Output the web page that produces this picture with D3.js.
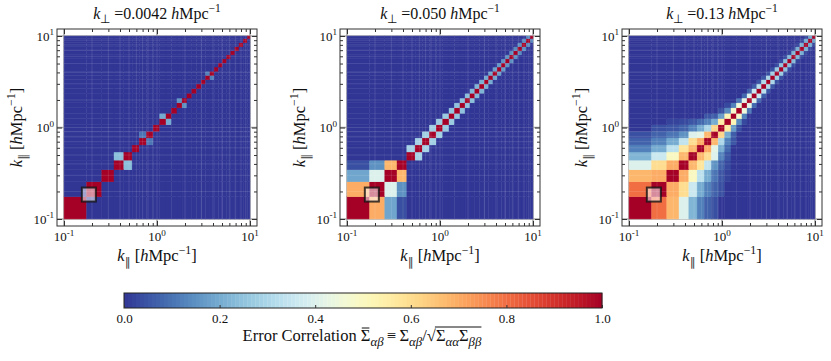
<!DOCTYPE html>
<html>
<head>
<meta charset="utf-8">
<script src="https://cdn.jsdelivr.net/npm/d3@7"></script>
<style>
  body { margin: 0; background: #fff; }
  svg { display: block; }
  text { font-family: "Liberation Serif", "Times New Roman", serif; fill: #111; }
</style>
</head>
<body>
<svg id="chart" width="831" height="361"></svg>
<script>
// k_parallel bin edges (h/Mpc), same for every panel
const kEdges = [0.1, 0.175, 0.255, 0.345, 0.44, 0.54, 0.645, 0.77, 0.91, 1.07, 1.25, 1.43,
  1.64, 1.86, 2.10, 2.37, 2.66, 2.99, 3.33, 3.71, 4.12, 4.58, 5.07, 5.62, 6.22, 6.88,
  7.62, 8.45, 9.35, 10.0];

const panelKperp = ["0.0042", "0.050", "0.13"];
const diagValue = 1.0;
const bgValue = 0.0;

// offDiag[d][i] = correlation of bin i with bin i+d+1 (missing -> background)
const offDiagA = [
  [0, 0, 0, 0.24, 0, 0, 0.1, 0, 0, 0.2, 0, 0, 0.15, 0, 0, 0, 0, 0, 0.12, 0, 0, 0, 0, 0, 0, 0, 0, 0]
];
const offDiagB = [
  [0.7, 0.4, 0.68, 0, 0.29, 0.29, 0.28, 0.28, 0.27, 0.27, 0.26, 0.25, 0.25, 0.24, 0.23, 0.22,
   0.21, 0.2, 0.19, 0.18, 0.17, 0.16, 0.15, 0.15, 0.14, 0.14, 0.13, 0.13],
  [0.19, 0.15],
  [0.04]
];
const offDiagC = [
  [0.8, 0.7, 0.7, 0.68, 0.68, 0.7, 0.68, 0.62, 0.56, 0.52, 0.48, 0.45, 0.42, 0.4, 0.36, 0.33,
   0.31, 0.3, 0.28, 0.27, 0.25, 0.24, 0.23, 0.22, 0.21, 0.2, 0.19, 0.18],
  [0.68, 0.6, 0.5, 0.58, 0.6, 0.42, 0.3, 0.2, 0.17, 0.14, 0.12, 0.1, 0.08, 0.07, 0.06, 0.05,
   0.05, 0.04, 0.04, 0.03, 0.03, 0.03, 0.02, 0.02, 0.02, 0.02, 0.02],
  [0.4, 0.36, 0.33, 0.34, 0.4, 0.2, 0.12, 0.06, 0.04, 0.03],
  [0.22, 0.2, 0.2, 0.15, 0.12, 0.08, 0.05],
  [0.12, 0.12, 0.1, 0.07, 0.05],
  [0.07, 0.07, 0.05, 0.03],
  [0.04, 0.04, 0.02]
];
const panelOffDiag = [offDiagA, offDiagB, offDiagC];

// highlighted (k, k) point
const markerK = [0.185, 0.185];

const majorTicks = [0.1, 1, 10];
const minorTicks = [0.2, 0.3, 0.4, 0.5, 0.6, 0.7, 0.8, 0.9, 2, 3, 4, 5, 6, 7, 8, 9];
const cbTicks = [0, 0.2, 0.4, 0.6, 0.8, 1.0];

const svg = d3.select("#chart");
const color = v => d3.interpolateRdYlBu(1 - v);
const serif = '"Liberation Serif", "Times New Roman", serif';

// layout
const panelLeft = [64, 347, 629];
const plotW = 186, plotTop = 36, plotH = 183, pad = 7;

function cellValue(off, i, j) {
  if (i === j) return diagValue;
  const band = off[Math.abs(i - j) - 1];
  const v = band ? band[Math.min(i, j)] : undefined;
  return v == null ? bgValue : v;
}

// text with italic / sub / superscript pieces
function rich(text, parts, size, subScale = 0.7) {
  let shift = 0;
  parts.forEach(p => {
    const small = p.sub || p.sup;
    const target = p.sub ? size * 0.3 : p.sup ? -size * 0.42 : 0;
    const fs = small ? size * subScale : size;
    text.append("tspan")
      .attr("dy", target - shift)
      .style("font-size", fs + "px")
      .style("font-style", p.i ? "italic" : null)
      .style("font-family", p.font || null)
      .style("fill", p.fill || null)
      .text(p.t);
    shift = target;
  });
  return text;
}

const kLabel = (sym) => [{t: "k", i: true}, {t: sym, sub: true, font: '"DejaVu Sans", sans-serif', fill: "#333"},
  {t: " ["}, {t: "h", i: true}, {t: "Mpc"}, {t: "\u22121", sup: true}, {t: "]"}];
const decade = d => [{t: "10"}, {t: String(Math.round(Math.log10(d))), sup: true}];

const nBins = kEdges.length - 1;

panelKperp.forEach((kp, n) => {
  const x0 = panelLeft[n];
  const x = d3.scaleLog().domain([0.1, 10]).range([x0, x0 + plotW]);
  const y = d3.scaleLog().domain([0.1, 10]).range([plotTop + plotH, plotTop]);
  const fx0 = x0 - pad, fx1 = x0 + plotW + pad, fy0 = plotTop - pad, fy1 = plotTop + plotH + pad;
  const g = svg.append("g");

  // major grid lines (seen in the white margin)
  g.selectAll(".gv").data(majorTicks).join("line")
    .attr("x1", d => x(d)).attr("x2", d => x(d)).attr("y1", fy0).attr("y2", fy1)
    .attr("stroke", "#a8a8a8").attr("stroke-width", 1.6);
  g.selectAll(".gh").data(majorTicks).join("line")
    .attr("y1", d => y(d)).attr("y2", d => y(d)).attr("x1", fx0).attr("x2", fx1)
    .attr("stroke", "#a8a8a8").attr("stroke-width", 1.6);

  // correlation matrix
  const off = panelOffDiag[n];
  const cells = d3.cross(d3.range(nBins), d3.range(nBins)).map(([i, j]) => ({i, j, v: cellValue(off, i, j)}));
  g.append("g").selectAll("rect").data(cells).join("rect")
    .attr("x", d => x(kEdges[d.j]))
    .attr("width", d => x(kEdges[d.j + 1]) - x(kEdges[d.j]))
    .attr("y", d => y(kEdges[d.i + 1]))
    .attr("height", d => y(kEdges[d.i]) - y(kEdges[d.i + 1]))
    .attr("fill", d => color(d.v))
    .attr("stroke", d => color(d.v))
    .attr("stroke-width", 0.4);

  // faint grid over the matrix
  const allTicks = majorTicks.concat(minorTicks);
  const grid = g.append("g").attr("stroke", "#fff").attr("stroke-opacity", 0.12);
  grid.selectAll(".v").data(allTicks).join("line")
    .attr("x1", d => x(d)).attr("x2", d => x(d)).attr("y1", plotTop).attr("y2", plotTop + plotH);
  grid.selectAll(".h").data(allTicks).join("line")
    .attr("y1", d => y(d)).attr("y2", d => y(d)).attr("x1", x0).attr("x2", x0 + plotW);

  // marker
  const ms = 14;
  g.append("rect")
    .attr("x", x(markerK[0]) - ms / 2).attr("y", y(markerK[1]) - ms / 2)
    .attr("width", ms).attr("height", ms)
    .attr("fill", "#fff").attr("fill-opacity", 0.55)
    .attr("stroke", "#111").attr("stroke-opacity", 0.8).attr("stroke-width", 2);

  // frame and inward ticks on all four sides
  g.append("rect")
    .attr("x", fx0).attr("y", fy0).attr("width", fx1 - fx0).attr("height", fy1 - fy0)
    .attr("fill", "none").attr("stroke", "#333").attr("stroke-width", 1);

  const sides = [
    [d3.axisBottom(x), `translate(0,${fy1})`],
    [d3.axisTop(x), `translate(0,${fy0})`],
    [d3.axisLeft(y), `translate(${fx0},0)`],
    [d3.axisRight(y), `translate(${fx1},0)`]
  ];
  sides.forEach(([ax, tr]) => {
    [[minorTicks, -3], [majorTicks, -5]].forEach(([vals, size]) => {
      const a = g.append("g").attr("transform", tr)
        .call(ax.tickValues(vals).tickSize(size).tickFormat(""));
      a.select(".domain").remove();
      a.selectAll(".tick line").attr("stroke", "#333");
    });
  });

  // tick labels
  majorTicks.forEach(d => {
    rich(g.append("text").attr("x", x(d)).attr("y", 241).attr("text-anchor", "middle"), decade(d), 13);
    rich(g.append("text").attr("x", fx0 - 3).attr("y", y(d) + 4.5).attr("text-anchor", "end"), decade(d), 13);
  });

  // axis titles
  rich(g.append("text").attr("x", x0 + plotW / 2).attr("y", 261).attr("text-anchor", "middle"),
    kLabel("\u2225"), 16.5, 0.72);
  rich(g.append("text").attr("text-anchor", "middle")
    .attr("transform", `translate(${x0 - 42},${plotTop + plotH / 2}) rotate(-90)`),
    kLabel("\u2225"), 16.5, 0.72);

  // panel title
  rich(g.append("text").attr("x", x0 + plotW / 2).attr("y", 18.5).attr("text-anchor", "middle"),
    [{t: "k", i: true}, {t: "\u22a5", sub: true}, {t: " =" + kp + " "}, {t: "h", i: true},
     {t: "Mpc"}, {t: "\u22121", sup: true}], 16, 0.72);
});

// colour bar
const cbX0 = 124, cbX1 = 602, cbY0 = 293, cbY1 = 308;
const xc = d3.scaleLinear().domain([0, 1]).range([cbX0, cbX1]);
const stripes = d3.range(0, 1, 1 / 120);
svg.append("g").selectAll("rect").data(stripes).join("rect")
  .attr("x", d => xc(d)).attr("width", xc(1 / 120) - xc(0) + 0.3)
  .attr("y", cbY0).attr("height", cbY1 - cbY0)
  .attr("fill", d => color(d + 1 / 240));
svg.append("rect")
  .attr("x", cbX0).attr("y", cbY0).attr("width", cbX1 - cbX0).attr("height", cbY1 - cbY0)
  .attr("fill", "none").attr("stroke", "#222");
const cbAxis = svg.append("g").attr("transform", `translate(0,${cbY1})`)
  .call(d3.axisBottom(xc).tickValues(cbTicks).tickSize(-3).tickPadding(5.5).tickFormat(d3.format(".1f")));
cbAxis.select(".domain").remove();
cbAxis.selectAll(".tick line").attr("stroke", "#333");
cbAxis.selectAll(".tick text")
  .style("font-family", serif).style("font-size", "13px").attr("fill", "#111");

// colour bar title with overlines
const cbParts = [
  {t: "Error Correlation "},
  {t: "\u03a3", over: true},
  {t: "\u03b1\u03b2", sub: true, i: true},
  {t: "\u2009\u2261\u2009"},
  {t: "\u03a3"},
  {t: "\u03b1\u03b2", sub: true, i: true},
  {t: "/"},
  {t: "\u221a", root: true},
  {t: "\u03a3", rad: true},
  {t: "\u03b1\u03b1", sub: true, i: true, rad: true},
  {t: "\u03a3", rad: true},
  {t: "\u03b2\u03b2", sub: true, i: true, rad: true}
];
const cbText = rich(svg.append("text").attr("x", 362).attr("y", 341).attr("text-anchor", "middle"),
  cbParts, 16.5, 0.78);
const node = cbText.node();
let idx = 0;
const spans = cbParts.map(p => { const s = idx; idx += p.t.length; return {p, s, e: idx - 1}; });
const overSpan = spans.find(s => s.p.over);
const o = node.getExtentOfChar(overSpan.s);
svg.append("line").attr("x1", o.x + 1).attr("x2", o.x + o.width - 1)
  .attr("y1", 328).attr("y2", 328).attr("stroke", "#111").attr("stroke-width", 1);
const radSpans = spans.filter(s => s.p.rad);
const r1 = node.getExtentOfChar(radSpans[radSpans.length - 1].e);
const rootExt = node.getExtentOfChar(spans.find(s => s.p.root).s);
svg.append("line").attr("x1", rootExt.x + rootExt.width - 1).attr("x2", r1.x + r1.width)
  .attr("y1", 327).attr("y2", 327).attr("stroke", "#111").attr("stroke-width", 1);
</script>
</body>
</html>
